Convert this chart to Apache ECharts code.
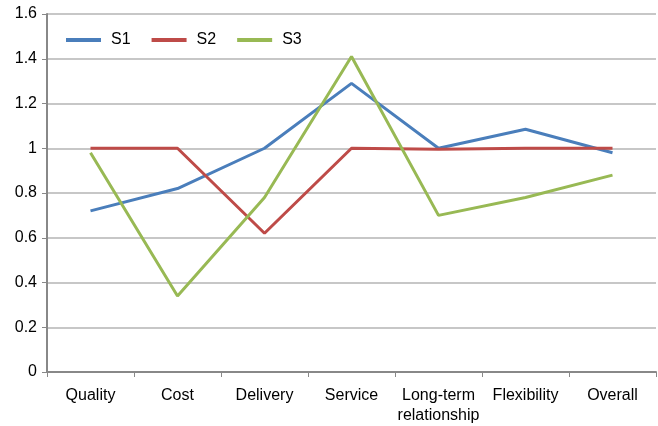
<!DOCTYPE html>
<html><head><meta charset="utf-8">
<script src="https://cdn.jsdelivr.net/npm/echarts@6/dist/echarts.min.js"></script>
<style>html,body{margin:0;padding:0;background:#fff}#c{width:658px;height:426px}</style>
</head><body><div id="c"></div>
<script>
const categories = ["Quality","Cost","Delivery","Service","Long-term\nrelationship","Flexibility","Overall"];
const s1 = [0.72, 0.82, 1.0, 1.29, 1.0, 1.085, 0.98];
const s2 = [1.0, 1.0, 0.62, 1.0, 0.995, 1.0, 1.0];
const s3 = [0.98, 0.34, 0.78, 1.41, 0.70, 0.78, 0.88];
const yTicks = [0, 0.2, 0.4, 0.6, 0.8, 1, 1.2, 1.4, 1.6];

const chart = echarts.init(document.getElementById('c'));
const font = 'Liberation Sans, Arial, sans-serif';
function mk(name, data, color){
  return {name, type:'line', data, symbol:'none', lineStyle:{width:3, color}, itemStyle:{color}};
}
chart.setOption({
  animation:false,
  grid:{left:47, right:2, top:14, bottom:48},
  legend:{left:61, top:27, icon:'rect', itemWidth:35, itemHeight:4, itemGap:21,
    textStyle:{fontFamily:font, fontSize:16, color:'#000', padding:[0,0,0,5]},
    data:['S1','S2','S3']},
  xAxis:{type:'category', data:categories, boundaryGap:true,
    axisLine:{lineStyle:{color:'#888', width:2}},
    axisTick:{show:true, length:5, lineStyle:{color:'#888'}},
    axisLabel:{fontFamily:font, fontSize:16, color:'#000', margin:14, lineHeight:20, interval:0}},
  yAxis:{type:'value', min:0, max:1.6, interval:0.2,
    axisLine:{show:true, lineStyle:{color:'#888', width:2}},
    axisTick:{show:true, length:5, lineStyle:{color:'#888'}},
    splitLine:{lineStyle:{color:'#b5b5b5', width:1.5}},
    axisLabel:{fontFamily:font, fontSize:16, color:'#000', margin:10,
      formatter: v => { const t = yTicks.find(x => Math.abs(x - v) < 1e-9); return String(t !== undefined ? t : v); }}},
  series:[mk('S1', s1, '#4a7ebb'), mk('S2', s2, '#be4b48'), mk('S3', s3, '#98b954')]
});
</script></body></html>
